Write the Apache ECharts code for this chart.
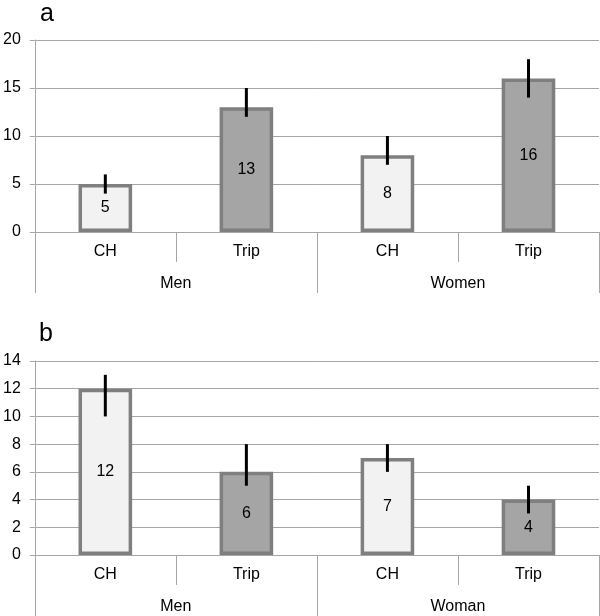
<!DOCTYPE html>
<html>
<head>
<meta charset="utf-8">
<script src="https://cdn.jsdelivr.net/npm/echarts@6/dist/echarts.min.js"></script>
<style>html,body{margin:0;padding:0;background:#fff}#c{width:600px;height:616px}</style>
</head>
<body>
<div id="c"></div>
<script>
// Panel a
var catsA = ['CH', 'Trip', 'CH', 'Trip'];
var groupsA = ['Men', 'Women'];
var valsA = [5, 13, 8, 16];
var errLowA = [4, 12, 7, 14];
var errHighA = [6, 15, 10, 18];
var ticksA = {min: 0, max: 20, interval: 5};
// Panel b
var catsB = ['CH', 'Trip', 'CH', 'Trip'];
var groupsB = ['Men', 'Woman'];
var valsB = [12, 6, 7, 4];
var errLowB = [10, 5, 6, 3];
var errHighB = [13, 8, 8, 5];
var ticksB = {min: 0, max: 14, interval: 2};

var FONT = 'Liberation Sans, Arial, sans-serif';
var GRID = '#a6a6a6';
var FS = 16;
var fills = {CH: '#f2f2f2', Trip: '#a5a5a5'};

function xAxes(gi, cats, groups) {
  return [
    {gridIndex: gi, type: 'category', data: cats, position: 'bottom',
     axisLine: {show: true, lineStyle: {color: GRID, width: 1}},
     axisTick: {show: true, length: 30, lineStyle: {color: GRID}},
     axisLabel: {margin: 12, fontSize: FS, color: '#000', fontFamily: FONT}},
    {gridIndex: gi, type: 'category', data: groups, position: 'bottom', offset: 0,
     axisLine: {show: false},
     axisTick: {show: true, length: 61, lineStyle: {color: GRID}},
     axisLabel: {margin: 44, fontSize: FS, color: '#000', fontFamily: FONT}}
  ];
}
function yAxis(gi, t) {
  return {gridIndex: gi, type: 'value', min: t.min, max: t.max, interval: t.interval,
    axisLine: {show: true, lineStyle: {color: GRID}},
    axisTick: {show: true, length: 5, lineStyle: {color: GRID}},
    splitLine: {show: true, lineStyle: {color: GRID, width: 1}},
    axisLabel: {margin: 14, fontSize: FS, color: '#000', fontFamily: FONT}};
}
function barSeries(gi, cats, vals) {
  return {type: 'bar', xAxisIndex: gi * 2, yAxisIndex: gi, barWidth: '38%',
    data: vals.map(function (v, i) {
      return {value: v, itemStyle: {color: fills[cats[i]]}};
    }),
    itemStyle: {borderColor: '#7f7f7f', borderWidth: 3.5},
    label: {show: true, position: 'inside', color: '#000', fontSize: FS, fontFamily: FONT},
    z: 2};
}
function errSeries(gi, lo, hi) {
  return {type: 'custom', xAxisIndex: gi * 2, yAxisIndex: gi, z: 5,
    data: lo.map(function (l, i) { return [i, l, hi[i]]; }),
    encode: {x: 0, y: [1, 2]},
    renderItem: function (params, api) {
      var p1 = api.coord([api.value(0), api.value(1)]);
      var p2 = api.coord([api.value(0), api.value(2)]);
      return {type: 'line', shape: {x1: p1[0], y1: p1[1], x2: p2[0], y2: p2[1]},
        style: {stroke: '#000', lineWidth: 3}};
    }};
}

var chart = echarts.init(document.getElementById('c'), null, {renderer: 'canvas'});
chart.setOption({
  animation: false,
  backgroundColor: '#fff',
  title: [
    {text: 'a', left: 35, top: 0, padding: [2, 5], textStyle: {fontSize: 25, fontWeight: 'normal', color: '#000', fontFamily: FONT}},
    {text: 'b', left: 34, top: 320, padding: [2, 5], textStyle: {fontSize: 25, fontWeight: 'normal', color: '#000', fontFamily: FONT}}
  ],
  grid: [
    {left: 34, right: 1, top: 40, height: 192},
    {left: 34, right: 1, top: 361, height: 194}
  ],
  xAxis: xAxes(0, catsA, groupsA).concat(xAxes(1, catsB, groupsB)),
  yAxis: [yAxis(0, ticksA), yAxis(1, ticksB)],
  series: [
    barSeries(0, catsA, valsA), errSeries(0, errLowA, errHighA),
    barSeries(1, catsB, valsB), errSeries(1, errLowB, errHighB)
  ]
});
</script>
</body>
</html>
